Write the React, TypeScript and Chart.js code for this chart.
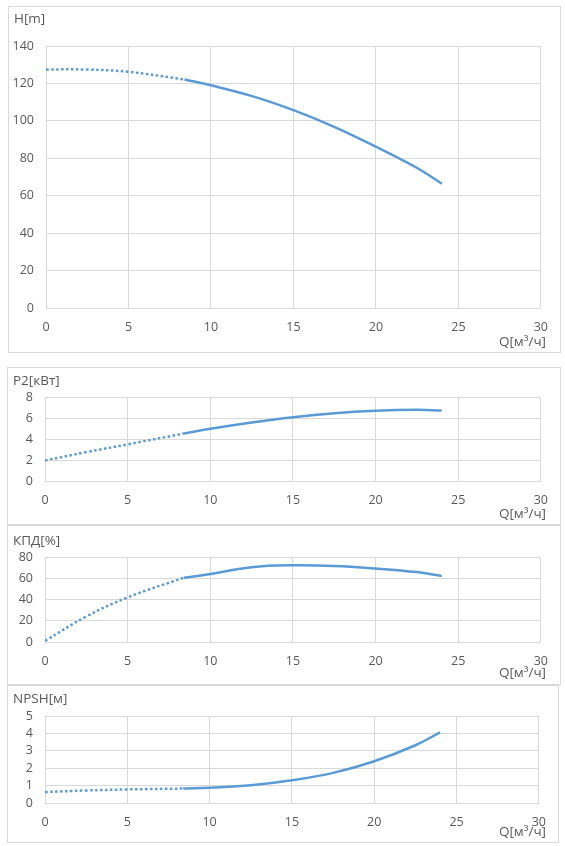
import { useEffect, useRef } from 'react';
import { Chart, registerables } from 'chart.js';

Chart.register(...registerables);

// flow Q [m3/h]: dotted part (outside working range) and solid part
const qDotted = [0, 2.5, 5, 8.4];
const qSolid = [8.4, 10, 12.5, 15, 17.5, 20, 22.5, 24];

const headDotted = [127.5, 127.4, 126.2, 122.1];
const headSolid = [122.1, 119.0, 113.2, 105.7, 96.7, 86.2, 74.8, 66.4];

const powerDotted = [1.96, 2.75, 3.49, 4.52];
const powerSolid = [4.52, 4.97, 5.57, 6.08, 6.46, 6.69, 6.78, 6.72];

const effDotted = [1, 24, 42, 60.5];
const effSolid = [60.5, 64.0, 70.4, 72.2, 71.6, 69.2, 65.8, 62.2];

const npshDotted = [0.63, 0.72, 0.78, 0.83];
const npshSolid = [0.83, 0.88, 1.02, 1.31, 1.73, 2.4, 3.32, 4.06];

const xTicks = [0, 5, 10, 15, 20, 25, 30];

const palette = {
  line: '#5b9bd5',
  grid: '#d9d9d9',
  text: '#595959',
  border: '#d9d9d9',
};

const fontFamily = '"Open Sans", "Noto Sans", sans-serif';

interface Box {
  left: number;
  top: number;
  right: number;
  bottom: number;
}

interface PanelProps {
  title: string;
  dotted: number[];
  solid: number[];
  yMax: number;
  yStep: number;
  box: Box;
  plot: Box;
  titleY: number;
  qY: number;
}

function toPoints(xs: number[], ys: number[]) {
  return xs.map((x, i) => ({ x, y: ys[i] }));
}

function Panel({ title, dotted, solid, yMax, yStep, box, plot, titleY, qY }: PanelProps): JSX.Element {
  const canvasRef = useRef<HTMLCanvasElement | null>(null);

  // canvas sits inside the 1px border
  const inner = {
    left: box.left + 1,
    top: box.top + 1,
    right: box.right - 1,
    bottom: box.bottom - 1,
  };

  useEffect(() => {
    if (!canvasRef.current) return;
    const chart = new Chart(canvasRef.current, {
      type: 'line',
      data: {
        datasets: [
          {
            data: toPoints(qDotted, dotted),
            borderColor: palette.line,
            borderWidth: 2.5,
            borderDash: [2.5, 2.5],
            pointRadius: 0,
            tension: 0.4,
          },
          {
            data: toPoints(qSolid, solid),
            borderColor: palette.line,
            borderWidth: 2.5,
            pointRadius: 0,
            tension: 0.4,
          },
        ],
      },
      options: {
        animation: false,
        responsive: true,
        maintainAspectRatio: false,
        layout: {
          padding: {
            left: 0,
            top: plot.top - inner.top,
            right: inner.right - plot.right,
            bottom: 0,
          },
        },
        plugins: {
          legend: { display: false },
          tooltip: { enabled: false },
        },
        scales: {
          x: {
            type: 'linear',
            min: xTicks[0],
            max: xTicks[xTicks.length - 1],
            afterBuildTicks: (scale) => {
              scale.ticks = xTicks.map((value) => ({ value }));
            },
            afterFit: (scale) => {
              scale.height = inner.bottom - plot.bottom;
            },
            ticks: {
              color: palette.text,
              font: { family: fontFamily, size: 12.5 },
              padding: 12,
              maxRotation: 0,
              autoSkip: false,
            },
            grid: { color: palette.grid, drawTicks: false },
            border: { color: palette.grid },
          },
          y: {
            min: 0,
            max: yMax,
            afterFit: (scale) => {
              scale.width = plot.left - inner.left;
            },
            ticks: {
              stepSize: yStep,
              color: palette.text,
              font: { family: fontFamily, size: 12.5 },
              padding: 12,
              autoSkip: false,
            },
            grid: { color: palette.grid, drawTicks: false },
            border: { color: palette.grid },
          },
        },
      },
    });

    return () => {
      chart.destroy();
    };
  }, [dotted, solid, yMax, yStep]);

  const textStyle = {
    position: 'absolute' as const,
    fontFamily,
    color: palette.text,
    lineHeight: '18px',
    whiteSpace: 'nowrap' as const,
  };

  return (
    <>
      <div
        style={{
          position: 'absolute',
          left: box.left,
          top: box.top,
          width: box.right - box.left,
          height: box.bottom - box.top,
          border: `1px solid ${palette.border}`,
          boxSizing: 'border-box',
          background: '#fff',
        }}
      />
      <div
        style={{
          position: 'absolute',
          left: inner.left,
          top: inner.top,
          width: inner.right - inner.left,
          height: inner.bottom - inner.top,
        }}
      >
        <canvas ref={canvasRef} />
      </div>
      <span style={{ ...textStyle, left: box.left + 6, top: titleY - 9, fontSize: 13.5 }}>{title}</span>
      <span
        style={{
          ...textStyle,
          right: 565 - (plot.right + 2),
          top: qY - 10,
          fontSize: 13.5,
        }}
      >
        Q[м³/ч]
      </span>
    </>
  );
}

export default function App(): JSX.Element {
  return (
    <div style={{ position: 'absolute', left: 0, top: 0, width: 565, height: 846, background: '#fff' }}>
      <Panel
        title="H[m]"
        dotted={headDotted}
        solid={headSolid}
        yMax={140}
        yStep={20}
        box={{ left: 8, top: 6, right: 561, bottom: 353 }}
        plot={{ left: 46, top: 46, right: 544, bottom: 308 }}
        titleY={18}
        qY={342}
      />
      <Panel
        title="P2[кВт]"
        dotted={powerDotted}
        solid={powerSolid}
        yMax={8}
        yStep={2}
        box={{ left: 7, top: 367, right: 561, bottom: 525 }}
        plot={{ left: 45, top: 397, right: 544, bottom: 481 }}
        titleY={380}
        qY={514}
      />
      <Panel
        title="КПД[%]"
        dotted={effDotted}
        solid={effSolid}
        yMax={80}
        yStep={20}
        box={{ left: 7, top: 525, right: 561, bottom: 685 }}
        plot={{ left: 45, top: 557, right: 544, bottom: 642 }}
        titleY={540}
        qY={673}
      />
      <Panel
        title="NPSH[м]"
        dotted={npshDotted}
        solid={npshSolid}
        yMax={5}
        yStep={1}
        box={{ left: 7, top: 685, right: 559, bottom: 843 }}
        plot={{ left: 45, top: 716, right: 544, bottom: 803 }}
        titleY={698}
        qY={832}
      />
    </div>
  );
}
